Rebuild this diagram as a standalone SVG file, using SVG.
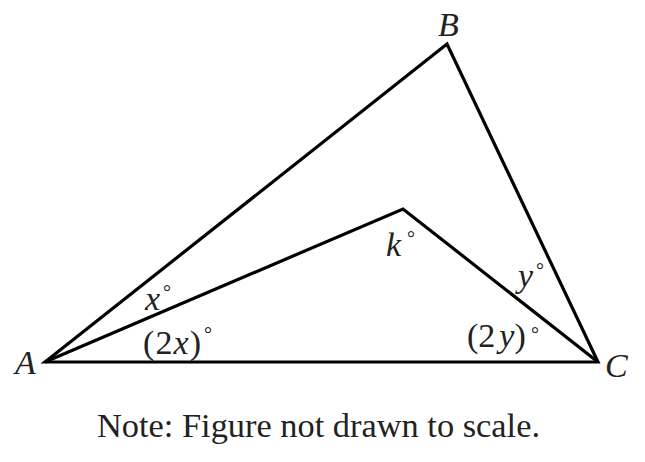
<svg xmlns="http://www.w3.org/2000/svg" width="645" height="462" viewBox="0 0 645 462">
<style>
.l{fill:none;stroke:#000;stroke-width:3.2;stroke-linejoin:miter}
.t{font-family:"Liberation Serif","Times New Roman",serif;fill:#222;font-size:34px}
.i{font-style:italic}
.d{font-size:20px;font-style:normal}
</style>
<rect width="645" height="462" fill="#fff"/>
<g id="connectors">
<path class="l" d="M45,362 L447,44 L598,362 Z"/>
<path class="l" d="M45,362 L403,209 L598,362"/>
</g>
<g id="A"><text class="t i" x="15" y="374">A</text></g>
<g id="B"><text class="t i" x="438" y="36">B</text></g>
<g id="C"><text class="t i" x="605" y="377">C</text></g>
<g id="lx"><text class="t i" x="145" y="310">x</text><text class="t d" x="163" y="299">°</text></g>
<g id="l2x"><text class="t" x="143" y="354" textLength="58">(2<tspan class="i">x</tspan>)</text><text class="t d" x="204" y="341">°</text></g>
<g id="lk"><text class="t i" x="386" y="256">k</text><text class="t d" x="407" y="245">°</text></g>
<g id="ly"><text class="t i" x="518" y="287">y</text><text class="t d" x="536" y="277">°</text></g>
<g id="l2y"><text class="t" x="467" y="347">(2<tspan class="i" dx="4">y</tspan>)</text><text class="t d" x="531" y="341">°</text></g>
<g id="note"><text class="t" x="97" y="437" textLength="443" lengthAdjust="spacingAndGlyphs">Note: Figure not drawn to scale.</text></g>
</svg>
